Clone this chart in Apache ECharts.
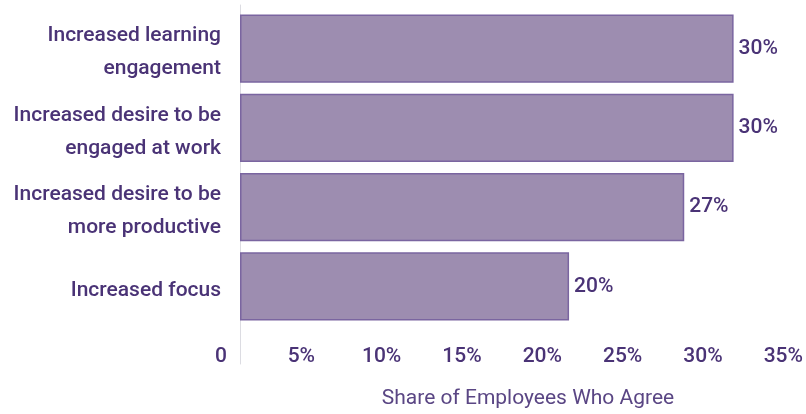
<!DOCTYPE html>
<html>
<head>
<meta charset="utf-8">
<script src="https://cdn.jsdelivr.net/npm/echarts@6/dist/echarts.min.js"></script>
<style>html,body{margin:0;padding:0;background:#fff}#c{width:806px;height:414px}</style>
</head>
<body>
<div id="c"></div>
<script>
const categories = [
  "Increased learning\nengagement",
  "Increased desire to be\nengaged at work",
  "Increased desire to be\nmore productive",
  "Increased focus"
];
const values = [30, 30, 27, 20];
const tickMin = 0, tickMax = 35, tickStep = 5;
const axisTitle = "Share of Employees Who Agree";

const textColor = "#4a3376";
const font = "Roboto";

const chart = echarts.init(document.getElementById('c'));
chart.setOption({
  animation: false,
  grid: [
    { left: 240, right: 0, top: 9, height: 317, containLabel: false },
    { left: 221, right: 20, top: 13, height: 317, containLabel: false },
    { left: 240, right: 0, top: 5, bottom: 42, containLabel: false }
  ],
  xAxis: [
    { gridIndex: 0, type: 'value', min: 0, max: 34.4, show: false },
    { gridIndex: 1, type: 'value', min: tickMin, max: tickMax, interval: tickStep,
      axisLine: { show: false }, axisTick: { show: false }, splitLine: { show: false },
      axisLabel: { margin: 16, color: textColor, fontFamily: font, fontSize: 21, fontWeight: 500,
        formatter: v => v === 0 ? '0' : v + '%' }
    },
    { gridIndex: 2, type: 'value', min: 0, max: 1,
      axisLine: { show: false }, axisTick: { show: false }, axisLabel: { show: false },
      splitLine: { show: false },
      name: axisTitle, nameLocation: 'middle', nameGap: 24,
      nameTextStyle: { color: '#5a4684', fontFamily: font, fontSize: 21, padding: [0, 0, 0, 10] }
    }
  ],
  yAxis: [
    { gridIndex: 0, type: 'category', data: categories, inverse: true, show: false },
    { gridIndex: 1, type: 'category', data: categories, inverse: true,
      axisLine: { show: false }, axisTick: { show: false }, splitLine: { show: false },
      axisLabel: { margin: 0, color: textColor, fontFamily: font, fontSize: 21,
        fontWeight: 500, lineHeight: 33, align: 'right' } },
    { gridIndex: 2, type: 'value', min: 0, max: 1,
      axisLine: { show: true, lineStyle: { color: '#dcdce2', width: 1 } },
      axisTick: { show: false }, axisLabel: { show: false }, splitLine: { show: false } }
  ],
  series: [{
    type: 'bar',
    xAxisIndex: 0, yAxisIndex: 0,
    data: values,
    barCategoryGap: '14%',
    itemStyle: { color: '#9d8db0', borderColor: '#7a65a0', borderWidth: 1.5 },
    label: { show: true, position: 'right', distance: 5, formatter: p => p.value + '%',
      color: textColor, fontFamily: font, fontSize: 21, fontWeight: 500 }
  }]
});
</script>
</body>
</html>
